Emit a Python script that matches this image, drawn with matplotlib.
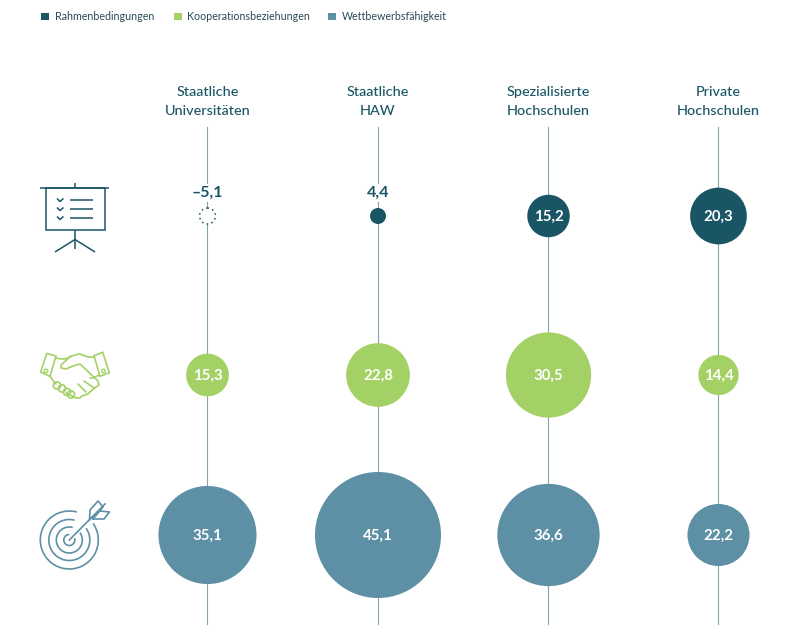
import matplotlib
matplotlib.use('Agg')
import matplotlib.pyplot as plt
from matplotlib.patches import Circle, Rectangle, Arc, Polygon, PathPatch
from matplotlib.path import Path

plt.rcParams['font.family'] = ['Lato', 'DejaVu Sans']

dark = '#1a5565'
green = '#a4d165'
blue = '#5d90a4'
line_col = '#86a5af'

columns = ['Staatliche\nUniversitäten', 'Staatliche\nHAW', 'Spezialisierte\nHochschulen', 'Private\nHochschulen']
col_x = [207.5, 378, 548.5, 718.5]

# rows: name, colour, y position, values per column
rows = [
    ('Rahmenbedingungen', dark, 216, [-5.1, 4.4, 15.2, 20.3]),
    ('Kooperationsbeziehungen', green, 375, [15.3, 22.8, 30.5, 14.4]),
    ('Wettbewerbsfähigkeit', blue, 535, [35.1, 45.1, 36.6, 22.2]),
]
px_per_unit = 1.397
min_radius = 8

fig = plt.figure(figsize=(8, 6.25), dpi=100)
ax = fig.add_axes([0, 0, 1, 1])
ax.set_xlim(0, 800)
ax.set_ylim(625, 0)
ax.axis('off')


def fmt(v):
    s = f'{abs(v):.1f}'.replace('.', ',')
    return '–' + s if v < 0 else s


# legend
for (name, color, _, _), lx in zip(rows, [41, 174, 328]):
    ax.add_patch(Rectangle((lx, 12.5), 7.5, 7.5, color=color, lw=0))
    ax.text(lx + 13.5, 16.8, name, fontsize=7.7, color='#2a4a55', va='center', ha='left')

# column headers and stems
for x, name in zip(col_x, columns):
    ax.text(x, 101.5, name, fontsize=10.4, color=dark, ha='center', va='center',
            linespacing=1.72, fontweight='medium')
    ax.plot([x - 0.3, x - 0.3], [127, 625], color=line_col, lw=0.8, zorder=1)

# bubbles
for name, color, y, values in rows:
    for x, v in zip(col_x, values):
        r = max(abs(v) * px_per_unit, min_radius)
        if v < 0:
            ax.add_patch(Circle((x, y), r, facecolor='white', edgecolor=dark, lw=1.1,
                                linestyle=(0, (1.0, 2.2)), zorder=2))
        else:
            ax.add_patch(Circle((x, y), r, facecolor=color, edgecolor='none', zorder=2))
        if r > 12:
            ax.text(x, y + 0.8, fmt(v), fontsize=10.8, color='white', fontweight='bold',
                    ha='center', va='center', zorder=3)
        else:
            ax.text(x, y - 23, fmt(v), fontsize=11.5, color=dark, fontweight='bold',
                    ha='center', va='center', zorder=3,
                    bbox=dict(facecolor='white', edgecolor='none', pad=1.5))

# presentation icon
k = dict(color=dark, lw=1.1, solid_capstyle='butt')
ax.plot([40, 109], [188, 188], **k)
ax.plot([75, 75], [183, 188], **k)
ax.add_patch(Rectangle((45.5, 188), 59, 42, fill=False, edgecolor=dark, lw=1.1))
ax.plot([75, 75], [230, 249], **k)
ax.plot([55, 75, 95], [252, 239.5, 252], **k)
for cy in [200, 209, 218]:
    ax.plot([57, 60, 63.5], [cy - 1.5, cy + 1.5, cy - 1.5], **k)
    ax.plot([70, 93], [cy - 0.5, cy - 0.5], **k)

# handshake icon
k = dict(color=green, lw=1.2, solid_capstyle='round', solid_joinstyle='round')
ax.add_patch(Polygon([(40.7, 372), (46.7, 353.5), (56, 356), (50, 376.5)], closed=True,
                     fill=False, edgecolor=green, lw=1.2))
ax.add_patch(Polygon([(94, 355.7), (102.7, 352.3), (109.3, 372.7), (100, 376.3)], closed=True,
                     fill=False, edgecolor=green, lw=1.2))
ax.add_patch(Circle((46, 371), 1.8, fill=False, edgecolor=green, lw=1))
ax.add_patch(Circle((103.5, 371), 1.8, fill=False, edgecolor=green, lw=1))
upper = Path([(56, 358), (64, 360), (68, 358), (72, 355), (80, 354), (88, 358), (94, 357)],
             [Path.MOVETO, Path.CURVE3, Path.CURVE3, Path.CURVE3, Path.CURVE3, Path.CURVE3, Path.CURVE3])
ax.add_patch(PathPatch(upper, fill=False, edgecolor=green, lw=1.2))
ax.plot([99, 93, 90], [375, 378, 378], **k)
ax.plot([71, 61, 61, 66, 73, 80, 98, 99, 96, 90, 88, 82, 80, 76, 72, 66],
        [356, 365, 368, 369, 366, 364, 381, 385, 387, 392, 394, 396, 398, 398, 396, 393], **k)
ax.plot([50, 54, 56], [376, 382, 384], **k)
ax.plot([78, 86], [384, 392], **k)
ax.plot([84, 94], [381, 388], **k)
for cx, cy in [(57, 385.5), (62, 388.5), (67, 392), (71, 394.5)]:
    ax.add_patch(Circle((cx, cy), 3.6, fill=False, edgecolor=green, lw=1.2))

# target icon
tx, ty = 69.3, 540
for r in [29, 20.5, 13]:
    ax.add_patch(Arc((tx, ty), 2 * r, 2 * r, theta1=-35, theta2=285, color=blue, lw=1.2))
ax.add_patch(Arc((tx, ty), 11, 11, theta1=-20, theta2=270, color=blue, lw=1.2))
k = dict(color=blue, lw=1.2, solid_joinstyle='round')
ax.plot([tx, 105], [ty, 504], **k)
ax.plot([89.5, 90, 98, 103, 93], [520, 510, 501, 507, 519], **k)
ax.plot([93, 104, 109.5, 100, 90], [519, 519, 512, 511, 519], **k)

fig.savefig('out.png', dpi=100)
